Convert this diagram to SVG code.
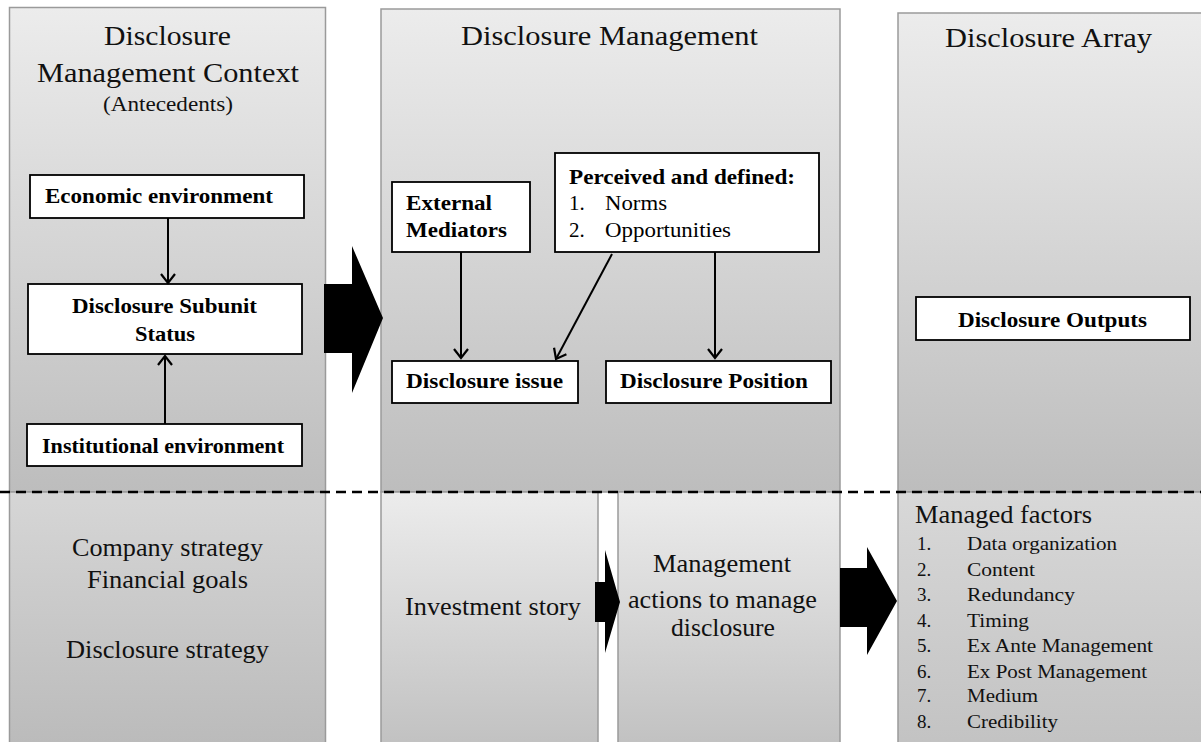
<svg xmlns="http://www.w3.org/2000/svg" width="1201" height="742" viewBox="0 0 1201 742">
<defs>
<linearGradient id="gTop" x1="0" y1="0" x2="0" y2="1">
<stop offset="0" stop-color="#ececec"/>
<stop offset="1" stop-color="#bdbdbd"/>
</linearGradient>
<linearGradient id="gBL" x1="0" y1="0" x2="0" y2="1">
<stop offset="0" stop-color="#d6d6d6"/>
<stop offset="1" stop-color="#bababa"/>
</linearGradient>
<linearGradient id="gBM" x1="0" y1="0" x2="0" y2="1">
<stop offset="0" stop-color="#ececec"/>
<stop offset="1" stop-color="#c0c0c0"/>
</linearGradient>
<linearGradient id="gBR" x1="0" y1="0" x2="0" y2="1">
<stop offset="0" stop-color="#d8d8d8"/>
<stop offset="1" stop-color="#c2c2c2"/>
</linearGradient>
<marker id="ah" markerUnits="userSpaceOnUse" markerWidth="20" markerHeight="20" refX="10" refY="8" orient="auto" viewBox="0 0 20 16">
<path d="M1,1 L10,8 L1,15" fill="none" stroke="#000" stroke-width="2.2"/>
</marker>
<style>
.panel{stroke:#9a9a9a;stroke-width:1.5}
.box{fill:#fff;stroke:#000;stroke-width:1.8}
.title{font-family:"Liberation Serif","Times New Roman",serif;font-size:28px;fill:#111}
.sub{font-family:"Liberation Serif","Times New Roman",serif;font-size:21px;fill:#111}
.bold{font-family:"Liberation Serif","Times New Roman",serif;font-size:21px;font-weight:bold;fill:#000}
.reg{font-family:"Liberation Serif","Times New Roman",serif;font-size:21px;fill:#000}
.low{font-family:"Liberation Serif","Times New Roman",serif;font-size:25px;fill:#111}
.list{font-family:"Liberation Serif","Times New Roman",serif;font-size:19px;fill:#111}
.conn{stroke:#000;stroke-width:2;fill:none}
.big{fill:#000}
</style>
</defs>
<rect width="1201" height="742" fill="#fff"/>

<g id="panels">
<rect id="panel-context" class="panel" x="9.5" y="7.5" width="316" height="484.5" fill="url(#gTop)"/>
<rect id="panel-management" class="panel" x="381" y="9" width="459" height="483" fill="url(#gTop)"/>
<rect id="panel-array" class="panel" x="898" y="13" width="310" height="479" fill="url(#gTop)"/>
<rect id="panel-strategy" class="panel" x="9.5" y="492" width="316" height="260" fill="url(#gBL)"/>
<rect id="panel-story" class="panel" x="381" y="492" width="217" height="260" fill="url(#gBM)"/>
<rect id="panel-actions" class="panel" x="618" y="492" width="222" height="260" fill="url(#gBM)"/>
<rect id="panel-factors" class="panel" x="898" y="492" width="310" height="260" fill="url(#gBR)"/>
</g>

<g id="titles">
<text class="title" x="104" y="45" textLength="127" lengthAdjust="spacingAndGlyphs">Disclosure</text>
<text class="title" x="37" y="82" textLength="262" lengthAdjust="spacingAndGlyphs">Management  Context</text>
<text class="sub" x="103" y="111" textLength="130" lengthAdjust="spacingAndGlyphs">(Antecedents)</text>
<text class="title" x="461" y="45" textLength="297" lengthAdjust="spacingAndGlyphs">Disclosure  Management</text>
<text class="title" x="945" y="47" textLength="207" lengthAdjust="spacingAndGlyphs">Disclosure  Array</text>
</g>

<g id="economic-environment">
<rect class="box" x="30" y="175" width="274" height="43"/>
<text class="bold" x="45" y="203" textLength="228" lengthAdjust="spacingAndGlyphs">Economic environment</text>
</g>
<g id="subunit-status">
<rect class="box" x="28" y="284" width="274" height="70"/>
<text class="bold" x="72" y="313" textLength="185" lengthAdjust="spacingAndGlyphs">Disclosure Subunit</text>
<text class="bold" x="135" y="341" textLength="60" lengthAdjust="spacingAndGlyphs">Status</text>
</g>
<g id="institutional-environment">
<rect class="box" x="27" y="424" width="275" height="42"/>
<text class="bold" x="42" y="453" textLength="242" lengthAdjust="spacingAndGlyphs">Institutional environment</text>
</g>

<g id="external-mediators">
<rect class="box" x="392" y="182" width="138" height="70"/>
<text class="bold" x="406" y="210" textLength="86" lengthAdjust="spacingAndGlyphs">External</text>
<text class="bold" x="406" y="237" textLength="101" lengthAdjust="spacingAndGlyphs">Mediators</text>
</g>
<g id="perceived-defined">
<rect class="box" x="555" y="153" width="264" height="99"/>
<text class="bold" x="569" y="184" textLength="226" lengthAdjust="spacingAndGlyphs">Perceived and defined:</text>
<text class="reg" x="569" y="210">1.</text>
<text class="reg" x="605" y="210" textLength="62" lengthAdjust="spacingAndGlyphs">Norms</text>
<text class="reg" x="569" y="237">2.</text>
<text class="reg" x="605" y="237" textLength="126" lengthAdjust="spacingAndGlyphs">Opportunities</text>
</g>
<g id="disclosure-issue">
<rect class="box" x="392" y="361" width="186" height="42"/>
<text class="bold" x="406" y="388" textLength="157" lengthAdjust="spacingAndGlyphs">Disclosure issue</text>
</g>
<g id="disclosure-position">
<rect class="box" x="606" y="361" width="225" height="42"/>
<text class="bold" x="620" y="388" textLength="188" lengthAdjust="spacingAndGlyphs">Disclosure Position</text>
</g>
<g id="disclosure-outputs">
<rect class="box" x="916" y="297" width="274" height="43"/>
<text class="bold" x="958" y="327" textLength="189" lengthAdjust="spacingAndGlyphs">Disclosure Outputs</text>
</g>

<g id="strategy-text">
<text class="low" x="72" y="556" textLength="191" lengthAdjust="spacingAndGlyphs">Company  strategy</text>
<text class="low" x="87" y="588" textLength="161" lengthAdjust="spacingAndGlyphs">Financial  goals</text>
<text class="low" x="66" y="658" textLength="203" lengthAdjust="spacingAndGlyphs">Disclosure  strategy</text>
</g>
<g id="investment-story">
<text class="low" x="405" y="615" textLength="176" lengthAdjust="spacingAndGlyphs">Investment  story</text>
</g>
<g id="management-actions">
<text class="low" x="653" y="572" textLength="138" lengthAdjust="spacingAndGlyphs">Management</text>
<text class="low" x="628" y="608" textLength="189" lengthAdjust="spacingAndGlyphs">actions  to  manage</text>
<text class="low" x="671" y="636" textLength="104" lengthAdjust="spacingAndGlyphs">disclosure</text>
</g>
<g id="managed-factors">
<text class="low" x="915" y="523" font-size="24" textLength="177" lengthAdjust="spacingAndGlyphs">Managed  factors</text>
<text class="list" x="917" y="550">1.</text><text class="list" x="967" y="550" textLength="150" lengthAdjust="spacingAndGlyphs">Data organization</text>
<text class="list" x="917" y="576">2.</text><text class="list" x="967" y="576" textLength="68" lengthAdjust="spacingAndGlyphs">Content</text>
<text class="list" x="917" y="601">3.</text><text class="list" x="967" y="601" textLength="108" lengthAdjust="spacingAndGlyphs">Redundancy</text>
<text class="list" x="917" y="627">4.</text><text class="list" x="967" y="627" textLength="62" lengthAdjust="spacingAndGlyphs">Timing</text>
<text class="list" x="917" y="652">5.</text><text class="list" x="967" y="652" textLength="186" lengthAdjust="spacingAndGlyphs">Ex Ante Management</text>
<text class="list" x="917" y="678">6.</text><text class="list" x="967" y="678" textLength="180" lengthAdjust="spacingAndGlyphs">Ex Post Management</text>
<text class="list" x="917" y="702">7.</text><text class="list" x="967" y="702" textLength="71" lengthAdjust="spacingAndGlyphs">Medium</text>
<text class="list" x="917" y="728">8.</text><text class="list" x="967" y="728" textLength="91" lengthAdjust="spacingAndGlyphs">Credibility</text>
</g>

<g id="connectors">
<line class="conn" x1="168" y1="218" x2="168" y2="283" marker-end="url(#ah)"/>
<line class="conn" x1="165" y1="424" x2="165" y2="356" marker-end="url(#ah)"/>
<line class="conn" x1="461" y1="252" x2="461" y2="358" marker-end="url(#ah)"/>
<line class="conn" x1="612" y1="254" x2="556" y2="359" marker-end="url(#ah)"/>
<line class="conn" x1="715" y1="252" x2="715" y2="358" marker-end="url(#ah)"/>
<polygon class="big" points="324,284 352,284 352,246 383,318 352,393 352,353 324,353"/>
<polygon class="big" points="595,582 605,582 605,550 620,602 605,653 605,622 595,622"/>
<polygon class="big" points="840,568 867,568 867,547 897,601 867,655 867,627 840,627"/>
<line x1="0" y1="492" x2="1201" y2="492" stroke="#000" stroke-width="2.5" stroke-dasharray="10,6"/>
</g>
</svg>
